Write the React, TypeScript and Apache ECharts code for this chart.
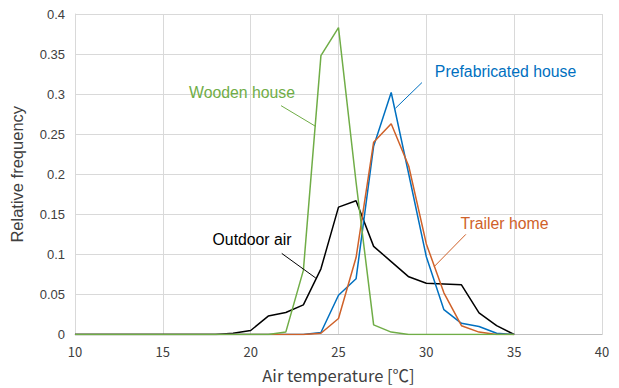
import React, { useEffect, useRef } from "react";
import * as echarts from "echarts";

const temps = [10, 11, 12, 13, 14, 15, 16, 17, 18, 19, 20, 21, 22, 23, 24, 25, 26, 27, 28, 29, 30, 31, 32, 33, 34, 35];
const outdoorAir = [0, 0, 0, 0, 0, 0, 0, 0, 0, 0.0016, 0.005, 0.023, 0.0275, 0.037, 0.082, 0.159, 0.167, 0.11, 0.091, 0.072, 0.064, 0.063, 0.062, 0.027, 0.011, 0];
const woodenHouse = [0, 0, 0, 0, 0, 0, 0, 0, 0, 0, 0, 0, 0.003, 0.08, 0.348, 0.383, 0.19, 0.012, 0.003, 0, 0, 0, 0, 0, 0, 0];
const prefabHouse = [0, 0, 0, 0, 0, 0, 0, 0, 0, 0, 0, 0, 0, 0, 0.0025, 0.049, 0.0695, 0.235, 0.302, 0.2, 0.097, 0.031, 0.014, 0.0099, 0.0015, 0];
const trailerHome = [0, 0, 0, 0, 0, 0, 0, 0, 0, 0, 0, 0, 0, 0, 0.0016, 0.02, 0.096, 0.24, 0.263, 0.21, 0.113, 0.052, 0.011, 0.003, 0, 0];

const xTicks = { min: 10, max: 40, interval: 5 };
const yTicks = { min: 0, max: 0.4, interval: 0.05 };

const annotations = [
  { text: "Wooden house", color: "#70AD47", label: [19.51, 0.3025], from: [21.73, 0.2856], to: [23.71, 0.2596] },
  { text: "Prefabricated house", color: "#0070C0", label: [34.51, 0.328], from: [29.75, 0.3144], to: [28.24, 0.2823] },
  { text: "Outdoor air", color: "#000000", label: [20.08, 0.1185], from: [21.77, 0.1012], to: [23.71, 0.0704] },
  { text: "Trailer home", color: "#CF6129", label: [34.45, 0.138], from: [32.25, 0.125], to: [30.45, 0.0848] },
];

const pairs = (ys: number[]) => temps.map((t, i) => [t, ys[i]]);

export default function App() {
  const ref = useRef<HTMLDivElement>(null);
  useEffect(() => {
    if (!ref.current) return;
    const chart = echarts.init(ref.current, null, { renderer: "svg" });
    const mk = (name: string, data: number[], color: string) => ({
      name,
      type: "line",
      data: pairs(data),
      showSymbol: false,
      symbol: "none",
      lineStyle: { color, width: 1.5 },
      itemStyle: { color },
    });
    chart.setOption({
      animation: false,
      backgroundColor: "#ffffff",
      grid: { left: 72, right: 17, top: 14, bottom: 50 },
      xAxis: {
        type: "value",
        min: xTicks.min,
        max: xTicks.max,
        interval: xTicks.interval,
        name: "Air temperature [℃]",
        nameLocation: "middle",
        nameGap: 32,
        nameTextStyle: { fontFamily: "Noto Sans CJK JP", fontSize: 16.5, color: "#404040" },
        axisLine: { show: true, lineStyle: { color: "#bfbfbf", width: 1 } },
        axisTick: { show: false },
        axisLabel: { fontFamily: "Noto Sans CJK JP", fontSize: 13, color: "#404040", margin: 10 },
        splitLine: { show: true, lineStyle: { color: "#d9d9d9", width: 1 } },
      },
      yAxis: {
        type: "value",
        min: yTicks.min,
        max: yTicks.max,
        interval: yTicks.interval,
        name: "Relative frequency",
        nameLocation: "middle",
        nameGap: 50,
        nameTextStyle: { fontFamily: "Liberation Sans", fontSize: 16.5, color: "#404040" },
        axisLine: { show: true, lineStyle: { color: "#d9d9d9", width: 1 } },
        axisTick: { show: false },
        axisLabel: {
          fontFamily: "Liberation Sans",
          fontSize: 13,
          color: "#404040",
          margin: 10,
          formatter: (v: number) => String(+v.toFixed(2)),
        },
        splitLine: { show: true, lineStyle: { color: "#d9d9d9", width: 1 } },
      },
      series: [
        mk("Outdoor air", outdoorAir, "#000000"),
        mk("Prefabricated house", prefabHouse, "#0070C0"),
        mk("Trailer home", trailerHome, "#CF6129"),
        mk("Wooden house", woodenHouse, "#70AD47"),
      ],
    });
    const px = (p: number[]) => chart.convertToPixel({ gridIndex: 0 }, p) as number[];
    const graphics: any[] = [];
    annotations.forEach((a) => {
      const l = px(a.label);
      const f = px(a.from);
      const t = px(a.to);
      graphics.push({
        type: "line",
        shape: { x1: f[0], y1: f[1], x2: t[0], y2: t[1] },
        style: { stroke: a.color, lineWidth: 1 },
        z: 10,
      });
      graphics.push({
        type: "text",
        x: l[0],
        y: l[1],
        style: {
          text: a.text,
          fill: a.color,
          font: "15.8px 'Liberation Sans'",
          textAlign: "center",
          textVerticalAlign: "middle",
        },
        z: 10,
      });
    });
    chart.setOption({ graphic: graphics });
    return () => chart.dispose();
  }, []);
  return <div ref={ref} style={{ width: 619, height: 388, position: "absolute", left: 0, top: 0 }} />;
}
